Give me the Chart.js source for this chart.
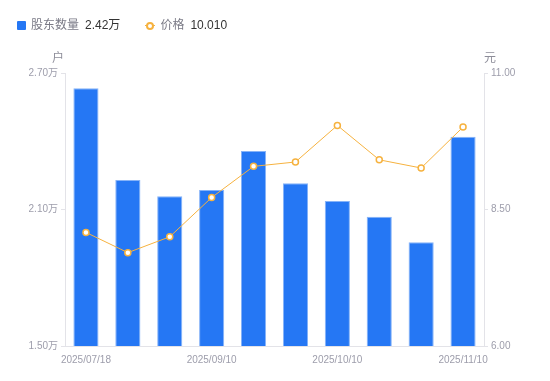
<!DOCTYPE html>
<html>
<head>
<meta charset="utf-8">
<script src="https://cdn.jsdelivr.net/npm/chart.js@4"></script>
<style>
  body { margin: 0; background: #fff; font-family: "Liberation Sans", "Noto Sans CJK SC", sans-serif; }
  #wrap { position: relative; width: 550px; height: 381px; }
  #legend { position: absolute; left: 17px; top: 17px; font-size: 12px; line-height: 17px; white-space: nowrap; }
  #legend span { display: inline-block; vertical-align: middle; }
  .sq { width: 9px; height: 9px; background: #2577f4; border-radius: 1px; margin-right: 5px; }
  .ln { position: relative; width: 10px; height: 9px; margin-right: 5px; }
  .ln:before { content: ""; position: absolute; left: 0; right: 0; top: 4px; height: 1px; background: #f6b23f; }
  .ln:after { content: ""; position: absolute; left: 1px; top: 0.5px; width: 4px; height: 4px; border: 2px solid #f6b23f; border-radius: 50%; background: #fff; }
  .lab { color: #7a7a86; margin-right: 6px; }
  .val { color: #333; margin-right: 25px; }
</style>
</head>
<body>
<div id="wrap">
  <div id="legend"><span class="sq"></span><span class="lab">股东数量</span><span class="val">2.42万</span><span class="ln"></span><span class="lab">价格</span><span class="val">10.010</span></div>
  <canvas id="chart" width="550" height="381"></canvas>
</div>
<script>
// dates of the shareholder counts
const dates = ['2025/07/18', '2025/07/31', '2025/08/20', '2025/09/10', '2025/09/19',
               '2025/09/30', '2025/10/10', '2025/10/20', '2025/10/31', '2025/11/10'];
// shareholders, in 万户
const holders = [2.633, 2.230, 2.158, 2.186, 2.357, 2.215, 2.137, 2.068, 1.956, 2.42];
// price, 元
const prices = [8.08, 7.71, 8.00, 8.72, 9.29, 9.37, 10.04, 9.41, 9.26, 10.01];
// only these dates get a label under the axis
const shownDates = ['2025/07/18', '2025/09/10', '2025/10/10', '2025/11/10'];

const tickColor = '#9d9dab';
const axisColor = '#e3e3e8';
const fontFamily = '"Liberation Sans", "Noto Sans CJK SC", sans-serif';

// unit titles above the two y axes
const unitTitles = {
  id: 'unitTitles',
  afterDraw(chart) {
    const { ctx, chartArea } = chart;
    ctx.save();
    ctx.font = '12px ' + fontFamily;
    ctx.fillStyle = '#8d8d99';
    ctx.textAlign = 'center';
    ctx.textBaseline = 'middle';
    ctx.fillText('户', chartArea.left - 7, chartArea.top - 14);
    ctx.fillText('元', chartArea.right + 6, chartArea.top - 14);
    ctx.restore();
  }
};

new Chart(document.getElementById('chart'), {
  data: {
    labels: dates,
    datasets: [
      {
        type: 'line',
        label: '价格',
        data: prices,
        yAxisID: 'yPrice',
        borderColor: '#f6b23f',
        borderWidth: 1,
        pointRadius: 3,
        pointBorderWidth: 1.5,
        pointBackgroundColor: '#fff',
        pointBorderColor: '#f6b23f',
        tension: 0,
        order: 0
      },
      {
        type: 'bar',
        label: '股东数量',
        data: holders,
        yAxisID: 'yHolders',
        backgroundColor: '#2577f4',
        borderColor: '#86b3f8',
        borderWidth: 1,
        categoryPercentage: 1,
        barPercentage: 0.6,
        order: 1
      }
    ]
  },
  options: {
    responsive: false,
    animation: false,
    layout: { padding: { top: 73, left: 0, right: 0, bottom: 0 } },
    plugins: { legend: { display: false }, tooltip: { enabled: false } },
    scales: {
      x: {
        offset: true,
        grid: { display: false },
        border: { color: axisColor },
        ticks: {
          autoSkip: false,
          maxRotation: 0,
          padding: 0,
          color: tickColor,
          font: { size: 10, family: fontFamily },
          callback(v) {
            const d = this.getLabelForValue(v);
            return shownDates.includes(d) ? d : '';
          }
        },
        afterFit(scale) { scale.height = 35; }
      },
      yHolders: {
        position: 'left',
        min: 1.5,
        max: 2.7,
        grid: { drawOnChartArea: false, tickLength: 4, color: axisColor },
        border: { color: axisColor },
        ticks: {
          stepSize: 0.6,
          padding: 3,
          color: tickColor,
          font: { size: 10, family: fontFamily },
          callback: v => v.toFixed(2) + '万'
        },
        afterFit(scale) { scale.width = 65; }
      },
      yPrice: {
        position: 'right',
        min: 6,
        max: 11,
        grid: { drawOnChartArea: false, tickLength: 4, color: axisColor },
        border: { color: axisColor },
        ticks: {
          stepSize: 2.5,
          padding: 3,
          color: tickColor,
          font: { size: 10, family: fontFamily },
          callback: v => v.toFixed(2)
        },
        afterFit(scale) { scale.width = 66; }
      }
    }
  },
  plugins: [unitTitles]
});
</script>
</body>
</html>
